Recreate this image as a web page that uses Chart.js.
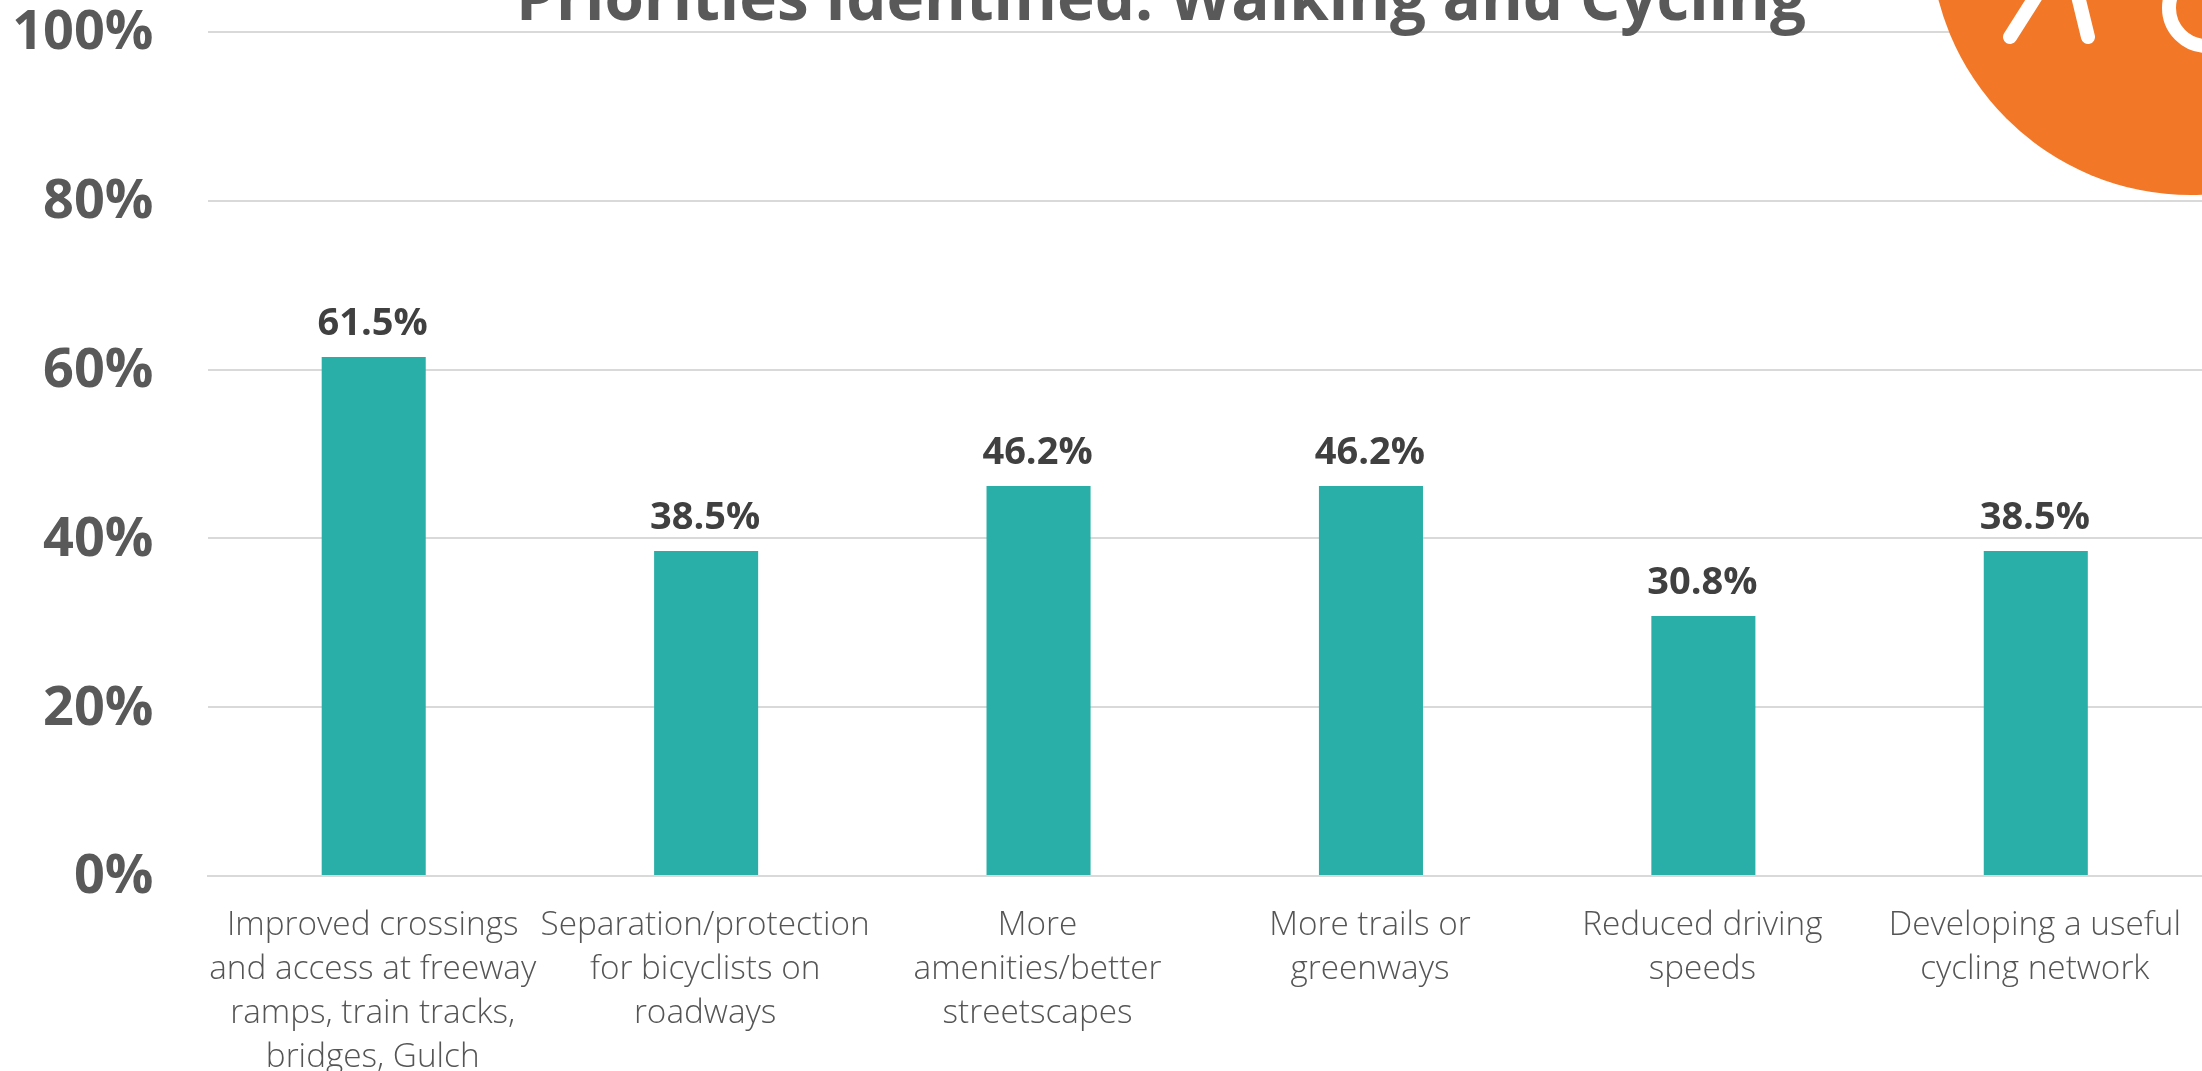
<!DOCTYPE html>
<html>
<head>
<meta charset="utf-8">
<title>Priorities Identified: Walking and Cycling</title>
<script src="https://cdn.jsdelivr.net/npm/chart.js@4"></script>
<style>
  html, body { margin: 0; padding: 0; background: #fff; overflow: hidden; }
  #wrap { position: relative; width: 2202px; height: 1071px; }
  #logo { position: absolute; left: 0; top: 0; }
</style>
</head>
<body>
<div id="wrap">
  <canvas id="prioritiesChart" width="2202" height="1071"></canvas>
  <svg id="logo" width="2202" height="1071">
    <circle cx="2191" cy="-66" r="261" fill="#f27727"/>
    <g fill="none" stroke="#fff" stroke-width="14" stroke-linecap="round">
      <path d="M2010 37 L2036 -4"/>
      <path d="M2088 37 L2078 -4"/>
      <circle cx="2207" cy="8" r="38"/>
    </g>
  </svg>
</div>
<script>
const chartTitle = "Priorities Identified: Walking and Cycling";
const categories = [
  ["Improved crossings", "and access at freeway", "ramps, train tracks,", "bridges, Gulch"],
  ["Separation/protection", "for bicyclists on", "roadways"],
  ["More", "amenities/better", "streetscapes"],
  ["More trails or", "greenways"],
  ["Reduced driving", "speeds"],
  ["Developing a useful", "cycling network"]
];
const shareValues = [61.5, 38.5, 46.2, 46.2, 30.8, 38.5];

// title sits half off the top of the page, so it is drawn by hand
const titlePlugin = {
  id: "clippedTitle",
  afterDraw(chart) {
    const ctx = chart.ctx;
    ctx.save();
    ctx.font = "bold 63.7px 'Open Sans'";
    ctx.fillStyle = "#595959";
    ctx.textAlign = "center";
    ctx.textBaseline = "alphabetic";
    ctx.fillText(chartTitle, 1161, 20);
    ctx.restore();
  }
};

const valueLabels = {
  id: "valueLabels",
  afterDatasetsDraw(chart) {
    const ctx = chart.ctx;
    ctx.save();
    ctx.font = "bold 38px 'Open Sans'";
    ctx.fillStyle = "#404040";
    ctx.textAlign = "center";
    ctx.textBaseline = "alphabetic";
    chart.getDatasetMeta(0).data.forEach(function (bar, i) {
      ctx.fillText(shareValues[i].toFixed(1) + "%", bar.x - 1, bar.y - 22);
    });
    ctx.restore();
  }
};

new Chart(document.getElementById("prioritiesChart"), {
  type: "bar",
  data: {
    labels: categories,
    datasets: [
      {
        data: shareValues,
        backgroundColor: "#29afa7",
        barPercentage: 0.313,
        categoryPercentage: 1,
      },
    ],
  },
  options: {
    responsive: false,
    animation: false,
    layout: { padding: { top: 32, right: 0, left: 0, bottom: 0 } },
    plugins: { legend: { display: false }, tooltip: { enabled: false } },
    scales: {
      x: {
        afterFit(scale) { scale.height = 195; scale.paddingLeft = 0; scale.paddingRight = 0; },
        grid: { display: false },
        border: { color: "#d9d9d9", width: 2 },
        ticks: {
          autoSkip: false,
          maxRotation: 0,
          minRotation: 0,
          padding: 20,
          labelOffset: -1,
          color: "#555555",
          font: { family: "'Open Sans'", size: 33.3, weight: "300", lineHeight: 1.32 },
        },
      },
      y: {
        min: 0,
        max: 100,
        afterFit(scale) { scale.width = 207.5; scale.paddingTop = 0; scale.paddingBottom = 0; },
        grid: { color: "#d9d9d9", lineWidth: 2, drawTicks: false },
        border: { display: false },
        ticks: {
          stepSize: 20,
          padding: 54,
          labelOffset: 2,
          color: "#595959",
          font: { family: "'Open Sans'", size: 54, weight: "bold" },
          callback: function (v) { return v + "%"; },
        },
      },
    },
  },
  plugins: [valueLabels, titlePlugin],
});
</script>
</body>
</html>
